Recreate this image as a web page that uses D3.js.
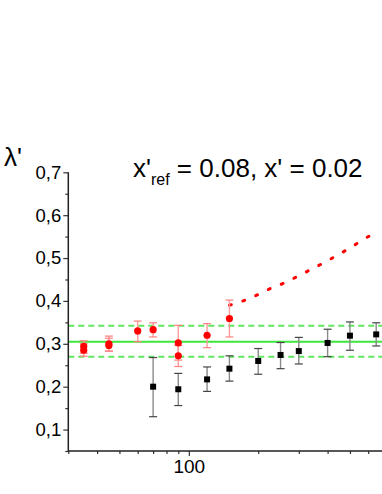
<!DOCTYPE html>
<html>
<head>
<meta charset="utf-8">
<script src="https://cdn.jsdelivr.net/npm/d3@7"></script>
<style>
  body { margin: 0; background: #fff; }
  text { font-family: "Liberation Sans", Arial, sans-serif; }
</style>
</head>
<body>
<script>

const W = 382;
const H = 494;

// red circles (with error bars)
const redX  = [35, 35, 45, 45, 60, 70, 90, 90, 120, 150];
const redY  = [0.294, 0.285, 0.300, 0.296, 0.330, 0.333, 0.302, 0.272, 0.320, 0.359];
const redLo = [0.278, 0.271, 0.283, 0.283, 0.305, 0.316, 0.262, 0.247, 0.291, 0.316];
const redHi = [0.307, 0.300, 0.318, 0.313, 0.353, 0.349, 0.343, 0.296, 0.347, 0.402];

// black squares (with error bars)
const blackX  = [70, 90, 120, 150, 200, 250, 300, 400, 500, 650];
const blackY  = [0.200, 0.194, 0.217, 0.242, 0.260, 0.274, 0.283, 0.302, 0.319, 0.322];
const blackLo = [0.130, 0.156, 0.189, 0.213, 0.229, 0.242, 0.253, 0.270, 0.285, 0.295];
const blackHi = [0.268, 0.231, 0.246, 0.272, 0.289, 0.303, 0.315, 0.334, 0.351, 0.349];

// red dotted curve
const fitX = [150, 172, 198, 224, 257, 293, 332, 379, 432, 494, 560, 640];
const fitY = [0.390, 0.400, 0.414, 0.428, 0.441, 0.456, 0.471, 0.487, 0.504, 0.522, 0.540, 0.559];

// green reference levels
const meanLevel = 0.305;
const bandLevels = [0.342, 0.270];

const yTicks = [0.1, 0.2, 0.3, 0.4, 0.5, 0.6, 0.7];
const yMinor = [0.05, 0.15, 0.25, 0.35, 0.45, 0.55, 0.65];
const xTicks = [100];
const xMinor = [30, 40, 50, 60, 70, 80, 90, 200, 300, 400, 500, 600, 700];

const x0 = 68.3, y0 = 451, yTop = 172.3;

const svg = d3.select("body").append("svg")
.attr("width", W)
.attr("height", H);

const xScale = d3.scaleLog()
.domain([30, 700])
.range([x0, x0 + 230.5 * Math.log10(700 / 30)]);

const yScale = d3.scaleLinear()
.domain([0.05, 0.7])
.range([y0, yTop]);

// green lines
svg.append("line")
.attr("x1", x0).attr("x2", W)
.attr("y1", yScale(meanLevel)).attr("y2", yScale(meanLevel))
.attr("stroke", "#3ee63e").attr("stroke-width", 2);

svg.selectAll(".band")
.data(bandLevels)
.enter()
.append("line")
.attr("class", "band")
.attr("x1", x0).attr("x2", W)
.attr("y1", d => yScale(d)).attr("y2", d => yScale(d))
.attr("stroke", "#5fe85f").attr("stroke-width", 2)
.attr("stroke-dasharray", "6,4");

// dotted fit curve
const fit = fitX.map((d, i) => [d, fitY[i]]);
svg.append("path")
.datum(fit)
.attr("d", d3.line().curve(d3.curveMonotoneX).x(d => xScale(d[0])).y(d => yScale(d[1])))
.attr("fill", "none")
.attr("stroke", "#ff0000")
.attr("stroke-width", 3)
.attr("stroke-linecap", "round")
.attr("stroke-dasharray", "2,12");

function errorBars(xs, lo, hi, cls, lineColor, capColor, lw) {
  const g = svg.append("g").attr("class", cls);
  xs.forEach((d, i) => {
    const cx = xScale(d);
    g.append("line")
    .attr("x1", cx).attr("x2", cx)
    .attr("y1", yScale(lo[i])).attr("y2", yScale(hi[i]))
    .attr("stroke", lineColor).attr("stroke-width", lw);
    [lo[i], hi[i]].forEach(v => {
      g.append("line")
      .attr("x1", cx - 4).attr("x2", cx + 4)
      .attr("y1", yScale(v)).attr("y2", yScale(v))
      .attr("stroke", capColor).attr("stroke-width", 1.2);
    });
  });
}

errorBars(blackX, blackLo, blackHi, "berr", "#8a8a8a", "#444", 1.4);
errorBars(redX, redLo, redHi, "rerr", "#ff9a9a", "#ff8080", 1.4);

svg.selectAll(".sq")
.data(blackX)
.enter()
.append("rect")
.attr("class", "sq")
.attr("x", d => xScale(d) - 3)
.attr("y", (d, i) => yScale(blackY[i]) - 3)
.attr("width", 6)
.attr("height", 6)
.attr("fill", "#000");

svg.selectAll(".dot")
.data(redX)
.enter()
.append("circle")
.attr("class", "dot")
.attr("cx", d => xScale(d))
.attr("cy", (d, i) => yScale(redY[i]))
.attr("r", 3.6)
.attr("fill", "#ff0000");

// axes
const yAxis = d3.axisLeft(yScale)
.tickValues(yTicks)
.tickSize(5)
.tickPadding(2)
.tickFormat(d => d3.format(".1f")(d).replace(".", ","));

const gy = svg.append("g")
.attr("transform", `translate(${x0},0)`)
.call(yAxis);
gy.select(".domain").remove();
gy.selectAll("text").style("font-size", "18.5px").attr("fill", "#000");

svg.append("g")
.attr("transform", `translate(${x0},0)`)
.call(d3.axisLeft(yScale).tickValues(yMinor).tickSize(3).tickFormat(""))
.select(".domain").remove();

const xAxis = d3.axisBottom(xScale)
.tickValues(xTicks)
.tickSize(5)
.tickPadding(4)
.tickFormat(d3.format("d"));

const gx = svg.append("g")
.attr("transform", `translate(0,${y0})`)
.call(xAxis);
gx.select(".domain").remove();
gx.selectAll("text").style("font-size", "19px").attr("fill", "#000");

svg.append("g")
.attr("transform", `translate(0,${y0})`)
.call(d3.axisBottom(xScale).tickValues(xMinor).tickSize(3).tickFormat(""))
.select(".domain").remove();

svg.selectAll(".tick line").attr("stroke", "#333").attr("stroke-width", 1.2);

svg.append("path")
.attr("d", `M${x0},${yTop}V${y0}H${W}`)
.attr("fill", "none")
.attr("stroke", "#222")
.attr("stroke-width", 1.5);

// labels
svg.append("text")
.attr("x", 4)
.attr("y", 166)
.style("font-size", "26px")
.text("λ'");

const title = svg.append("text")
.attr("x", 133)
.attr("y", 176.5)
.style("font-size", "26px");
title.append("tspan").text("x'");
title.append("tspan").attr("dy", 8.5).style("font-size", "16px").text("ref");
title.append("tspan").attr("dy", -8.5).text(" = 0.08, x' = 0.02");

</script>
</body>
</html>
